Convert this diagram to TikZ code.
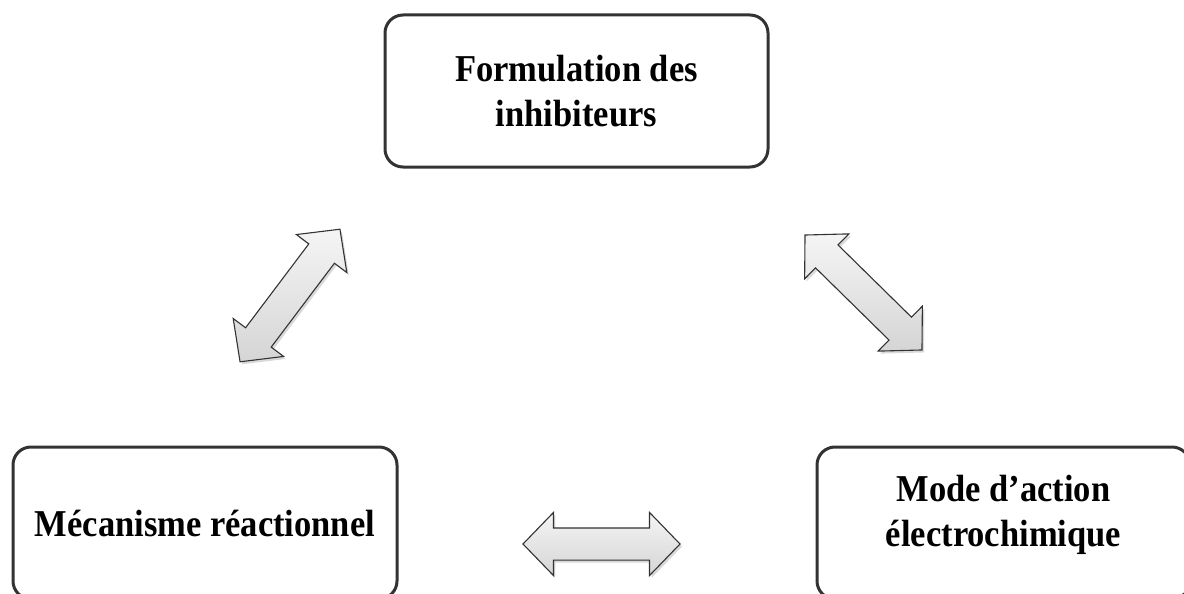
\documentclass[tikz,border=0pt]{standalone}
\usepackage{fontspec}
\setmainfont{Liberation Serif}
\usetikzlibrary{shapes.arrows,shadows}
\definecolor{edge}{HTML}{333333}
\newcommand\tl[1]{\scalebox{1}[1.1]{#1}}
\begin{document}
\begin{tikzpicture}[x=1pt,y=-1pt,
  box/.style={draw=edge, line width=3pt, rounded corners=18pt, fill=white,
    inner sep=0pt, align=center, font=\fontsize{34.5}{45.5}\selectfont\bfseries},
  lbl/.style={inner sep=0pt, align=center, font=\fontsize{34.5}{45.5}\selectfont\bfseries},
  darr/.style={double arrow, draw=edge, line width=1.1pt, top color=gray!8, bottom color=gray!33,
    inner xsep=0pt, inner ysep=15.5pt, double arrow head extend=15.5pt,
    double arrow tip angle=92, minimum width=62pt,
    drop shadow={shadow xshift=2pt, shadow yshift=-2.5pt, opacity=0.3}}]
\useasboundingbox (0,0) rectangle (1184,594);
% boxes
\node[box, minimum width=383pt, minimum height=152pt] (top) at (576.5,91)
  {\tl{Formulation des}\\\tl{inhibiteurs}};
\node[box, minimum width=384pt, minimum height=152pt] (bl) at (205,523)
  {\tl{Mécanisme réactionnel}};
\node[box, minimum width=373pt, minimum height=152pt] (br) at (1003.5,523) {};
\node[lbl] (brtext) at (1003.5,515) {\tl{Mode d’action}\\\tl{électrochimique}};
% double arrows
\node[darr, minimum height=166pt, rotate=53] (a1) at (290,295.5) {};
\node[darr, minimum height=164pt, rotate=-44.5] (a2) at (863.5,292.5) {};
\node[darr, minimum height=157pt] (a3) at (601.5,544) {};
\end{tikzpicture}
\end{document}
